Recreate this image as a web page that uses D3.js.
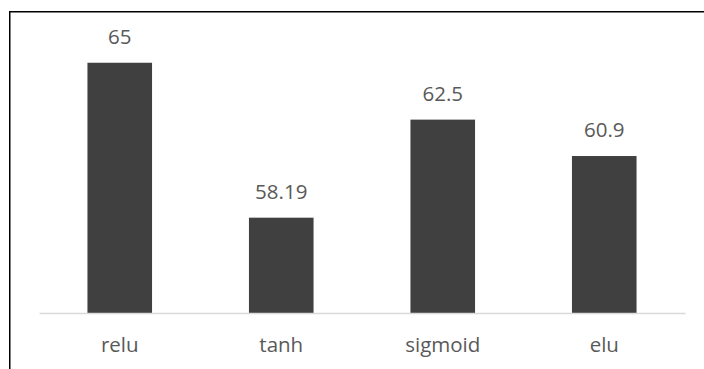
<!DOCTYPE html>
<html>
<head>
<meta charset="utf-8">
<script src="https://cdn.jsdelivr.net/npm/d3@7"></script>
<style>
  html, body { margin: 0; padding: 0; background: #fff; }
  svg { display: block; }
  text { font-family: "Open Sans", sans-serif; fill: #595959; }
</style>
</head>
<body>
<svg id="chart" width="704" height="369"></svg>
<script>
// Accuracy per activation function
const categories = ["relu", "tanh", "sigmoid", "elu"];
const values = [65, 58.19, 62.5, 60.9];
const valueLabels = ["65", "58.19", "62.5", "60.9"];
const yDomain = [54, 66];

const svg = d3.select("#chart");
const W = 704, H = 369;

// Outer frame (top and left edges visible)
svg.append("path")
  .attr("d", `M9.75,${H}V11.75H${W}`)
  .attr("fill", "none")
  .attr("stroke", "#000")
  .attr("stroke-width", 1.5);

const plot = { left: 39, right: 685, top: 40, bottom: 313 };

const x = d3.scaleBand()
  .domain(categories)
  .range([plot.left, plot.right])
  .paddingInner(0.6)
  .paddingOuter(0.3);

const y = d3.scaleLinear()
  .domain(yDomain)
  .range([plot.bottom, plot.top]);

// Bars
svg.append("g")
  .selectAll("rect")
  .data(values)
  .join("rect")
  .attr("x", (d, i) => x(categories[i]))
  .attr("y", d => y(d))
  .attr("width", x.bandwidth())
  .attr("height", d => y(yDomain[0]) - y(d))
  .attr("fill", "#404040");

// Category axis
const xAxis = svg.append("g")
  .attr("transform", `translate(0,${plot.bottom})`)
  .call(d3.axisBottom(x).tickSize(0).tickPadding(0));
xAxis.select(".domain")
  .attr("stroke", "#d9d9d9")
  .attr("stroke-width", 1.5);
xAxis.selectAll(".tick text")
  .attr("y", 39)
  .attr("dy", null)
  .style("font-size", "20.5px")
  .style("font-family", "'Open Sans', sans-serif")
  .attr("fill", "#595959");

// Value labels above bars
svg.append("g")
  .selectAll("text")
  .data(values)
  .join("text")
  .attr("x", (d, i) => x(categories[i]) + x.bandwidth() / 2)
  .attr("y", d => y(d) - 19)
  .attr("text-anchor", "middle")
  .style("font-size", "20.5px")
  .text((d, i) => valueLabels[i]);
</script>
</body>
</html>
